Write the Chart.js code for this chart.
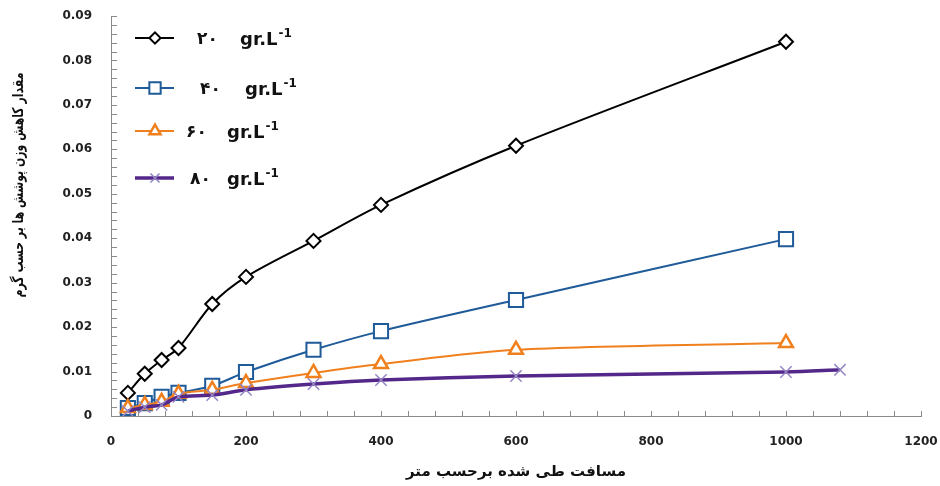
<!DOCTYPE html>
<html>
<head>
<meta charset="utf-8">
<script src="https://cdn.jsdelivr.net/npm/chart.js"></script>
<style>
    html, body { margin: 0; padding: 0; background: #fff; overflow: hidden; }
    #lossChart { display: block; }
</style>
</head>
<body>
<canvas id="lossChart" width="940" height="486"></canvas>
<script>
// Distance travelled (m) and coating weight loss (g) per concentration
const distances = [25, 50, 75, 100, 150, 200, 300, 400, 600, 1000];
const distances80 = [25, 50, 75, 100, 150, 200, 300, 400, 600, 1000, 1080];
const loss20 = [0.0052, 0.0095, 0.0126, 0.0153, 0.0252, 0.0313, 0.0394, 0.0475, 0.0608, 0.0842];
const loss40 = [0.0018, 0.0029, 0.0043, 0.0052, 0.0068, 0.0099, 0.0149, 0.0191, 0.0261, 0.0398];
const loss60 = [0.0018, 0.0025, 0.0032, 0.0050, 0.0059, 0.0074, 0.0097, 0.0117, 0.0149, 0.0164];
const loss80 = [0.0011, 0.0020, 0.0025, 0.0043, 0.0047, 0.0059, 0.0072, 0.0081, 0.0090, 0.0099, 0.0104];

const seriesLabels = ['۲۰', '۴۰', '۶۰', '۸۰'];
const unitLabel = 'gr.L';
const unitExp = '-1';
const xTickLabels = ['0', '200', '400', '600', '800', '1000', '1200'];
const yTickLabels = ['0', '0.01', '0.02', '0.03', '0.04', '0.05', '0.06', '0.07', '0.08', '0.09'];
const xTitle = 'مسافت طی شده برحسب متر';
const yTitle = 'مقدار کاهش وزن پوشش ها بر حسب گرم';

const AXIS_GRAY = '#8a8a8a';
const TICK_FONT = { family: '"DejaVu Sans", sans-serif', size: 12, weight: 'bold' };

function toPoints(xs, ys) {
    return ys.map((y, i) => ({ x: xs[i], y: y }));
}

// legend rows sit inside the plot, top-left (like the Excel original)
const legendRows = [
    { y: 38, digitsX: 197, unitX: 240 },
    { y: 88, digitsX: 200, unitX: 245 },
    { y: 131, digitsX: 186, unitX: 227 },
    { y: 178, digitsX: 190, unitX: 227 }
];

const insideLegend = {
    id: 'insideLegend',
    afterDraw(chart) {
        const ctx = chart.ctx;
        chart.data.datasets.forEach((ds, i) => {
            const row = legendRows[i];
            ctx.save();
            ctx.strokeStyle = ds.borderColor;
            ctx.lineWidth = ds.borderWidth;
            ctx.beginPath();
            ctx.moveTo(135, row.y);
            ctx.lineTo(174, row.y);
            ctx.stroke();
            ctx.fillStyle = ds.pointBackgroundColor;
            ctx.strokeStyle = ds.pointBorderColor;
            ctx.lineWidth = ds.pointBorderWidth;
            Chart.helpers.drawPoint(ctx, {
                pointStyle: ds.pointStyle,
                radius: ds.pointRadius * 0.8,
                borderWidth: ds.pointBorderWidth
            }, 155, row.y);
            ctx.restore();

            ctx.save();
            ctx.fillStyle = '#111';
            ctx.textBaseline = 'alphabetic';
            ctx.textAlign = 'left';
            ctx.font = 'bold 17px "DejaVu Sans", sans-serif';
            ctx.fillText(seriesLabels[i], row.digitsX, row.y + 6);
            ctx.font = 'bold 18px "DejaVu Sans", sans-serif';
            ctx.fillText(unitLabel, row.unitX, row.y + 7);
            const w = ctx.measureText(unitLabel).width;
            ctx.font = 'bold 12px "DejaVu Sans", sans-serif';
            ctx.fillText(unitExp, row.unitX + w + 1, row.y - 1);
            ctx.restore();
        });

        // vertical axis title, squeezed along its length to the original's size
        ctx.save();
        ctx.font = 'bold 15px "DejaVu Sans", sans-serif';
        const tw = ctx.measureText(yTitle).width;
        ctx.translate(19, 185);
        ctx.rotate(-Math.PI / 2);
        ctx.scale(225 / tw, 1);
        ctx.fillStyle = '#111';
        ctx.textAlign = 'center';
        ctx.textBaseline = 'middle';
        ctx.fillText(yTitle, 0, 0);
        ctx.restore();
    }
};

// Excel style tick marks pointing into the plot
const insideTicks = {
    id: 'insideTicks',
    beforeDatasetsDraw(chart) {
        const ctx = chart.ctx;
        const xs = chart.scales.x;
        const ys = chart.scales.y;
        ctx.save();
        ctx.strokeStyle = AXIS_GRAY;
        ctx.lineWidth = 1;
        ctx.beginPath();
        for (let v = 40; v <= 1200; v += 40) {
            const px = Math.round(xs.getPixelForValue(v)) + 0.5;
            ctx.moveTo(px, ys.bottom);
            ctx.lineTo(px, ys.bottom - 5);
        }
        for (let k = 1; k <= 45; k++) {
            const py = Math.round(ys.getPixelForValue(k * 0.002)) + 0.5;
            ctx.moveTo(xs.left, py);
            ctx.lineTo(xs.left + 6, py);
        }
        ctx.stroke();
        ctx.restore();
    }
};

const ctx = document.getElementById('lossChart').getContext('2d');
const lossChart = new Chart(ctx, {
    type: 'line',
    data: {
        datasets: [
            {
                label: seriesLabels[0],
                data: toPoints(distances, loss20),
                borderColor: '#000000',
                borderWidth: 2,
                pointStyle: 'rectRot',
                pointRadius: 7,
                pointBorderWidth: 2,
                pointBorderColor: '#000000',
                pointBackgroundColor: '#ffffff',
                tension: 0.3,
                order: 3
            },
            {
                label: seriesLabels[1],
                data: toPoints(distances, loss40),
                borderColor: '#1f5a99',
                borderWidth: 2,
                pointStyle: 'rect',
                pointRadius: 10,
                pointBorderWidth: 2,
                pointBorderColor: '#1f5a99',
                pointBackgroundColor: '#ffffff',
                tension: 0.3,
                order: 2
            },
            {
                label: seriesLabels[2],
                data: toPoints(distances, loss60),
                borderColor: '#f0801e',
                borderWidth: 2,
                pointStyle: 'triangle',
                pointRadius: 8,
                pointBorderWidth: 2.5,
                pointBorderColor: '#f0801e',
                pointBackgroundColor: '#ffffff',
                tension: 0.3,
                order: 1
            },
            {
                label: seriesLabels[3],
                data: toPoints(distances80, loss80),
                borderColor: '#54288a',
                borderWidth: 3.5,
                pointStyle: 'crossRot',
                pointRadius: 8,
                pointBorderWidth: 1.5,
                pointBorderColor: '#9484c4',
                pointBackgroundColor: '#9484c4',
                tension: 0.3,
                order: 0
            }
        ]
    },
    options: {
        responsive: false,
        animation: false,
        layout: { autoPadding: false, padding: { top: 16, right: 19, left: 0, bottom: 0 } },
        plugins: {
            legend: { display: false },
            tooltip: { enabled: false }
        },
        scales: {
            x: {
                type: 'linear',
                min: 0,
                max: 1200,
                // fixed band under the plot; label overhang handled by layout padding
                afterFit: scale => {
                    scale.height = 70;
                    scale.paddingLeft = 0;
                    scale.paddingRight = 0;
                },
                grid: { display: false, drawTicks: false },
                border: { display: true, color: AXIS_GRAY, width: 1 },
                ticks: {
                    stepSize: 200,
                    padding: 19,
                    color: '#222',
                    font: TICK_FONT,
                    maxRotation: 0,
                    callback: (value, i) => xTickLabels[i]
                },
                title: {
                    display: true,
                    text: xTitle,
                    color: '#111',
                    font: { family: '"DejaVu Sans", sans-serif', size: 15, weight: 'bold' },
                    padding: { top: 0, bottom: 5 }
                }
            },
            y: {
                min: 0,
                max: 0.09,
                afterFit: scale => {
                    scale.width = 111;
                    scale.paddingTop = 0;
                    scale.paddingBottom = 0;
                },
                grid: { display: false, drawTicks: false },
                border: { display: true, color: AXIS_GRAY, width: 1 },
                ticks: {
                    stepSize: 0.01,
                    padding: 19,
                    color: '#222',
                    font: TICK_FONT,
                    callback: (value, i) => yTickLabels[i]
                }
            }
        }
    },
    plugins: [insideTicks, insideLegend]
});
</script>
</body>
</html>
